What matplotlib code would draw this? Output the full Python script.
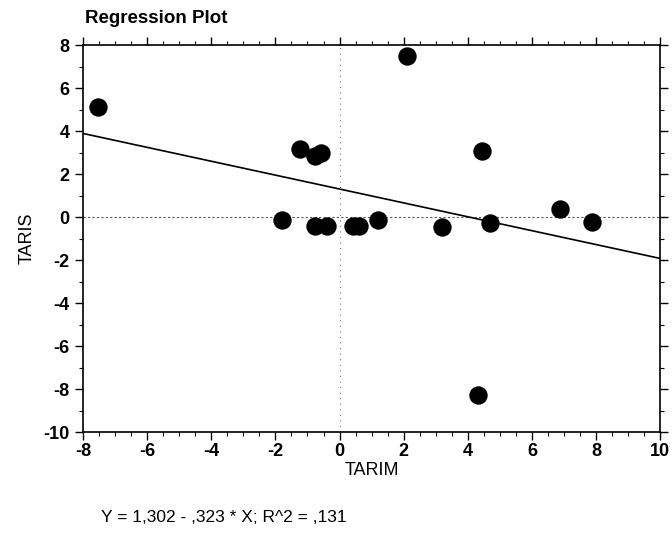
import matplotlib
matplotlib.use("Agg")
import matplotlib.pyplot as plt
import numpy as np
from matplotlib.ticker import MultipleLocator

plt.rcParams['font.family'] = ['Liberation Sans', 'DejaVu Sans']
plt.rcParams['axes.unicode_minus'] = False

tarim = [-7.53, -1.23, -0.78, -0.58, -1.78, -0.78, -0.38, 0.42, 0.61, 1.20,
         2.11, 3.18, 4.45, 4.69, 6.87, 7.86, 4.33]
taris = [5.11, 3.16, 2.84, 2.97, -0.12, -0.43, -0.40, -0.43, -0.43, -0.15,
         7.50, -0.45, 3.08, -0.27, 0.35, -0.24, -8.28]
intercept = 1.302
slope = -0.323
x_ticks = [-8, -6, -4, -2, 0, 2, 4, 6, 8, 10]
y_ticks = [8, 6, 4, 2, 0, -2, -4, -6, -8, -10]

fig = plt.figure(figsize=(6.72, 5.39), dpi=100)
ax = fig.add_axes([0.1235, 0.1985, 0.859, 0.718])

ax.axhline(0, color='#555555', lw=0.8, ls=(0, (2, 2)), zorder=1)
ax.axvline(0, color='#777777', lw=0.8, ls=(0, (1, 4)), zorder=1)

xl = np.array([-8, 10])
ax.plot(xl, intercept + slope * xl, color='black', lw=1.2, zorder=2)
ax.scatter(tarim, taris, s=175, color='black', zorder=3, linewidths=0)

ax.set_xlim(-8, 10)
ax.set_ylim(-10, 8)
ax.set_xticks(x_ticks)
ax.set_yticks(y_ticks)
ax.xaxis.set_minor_locator(MultipleLocator(0.5))
ax.yaxis.set_minor_locator(MultipleLocator(1))
ax.tick_params(axis='both', which='major', labelsize=13, length=6, width=1,
               direction='out', top=True, right=True)
ax.tick_params(axis='x', which='major', pad=2)
ax.tick_params(axis='both', which='minor', length=3, width=0.8,
               direction='out', top=True, right=True)
for lab in ax.get_xticklabels() + ax.get_yticklabels():
    lab.set_fontweight('bold')
for s in ax.spines.values():
    s.set_linewidth(1.2)

ax.set_xlabel('TARIM', fontsize=13, labelpad=1)
ax.set_ylabel('TARIS', fontsize=13, labelpad=6)
fig.text(0.127, 0.95, 'Regression Plot', fontsize=13.5, fontweight='bold',
         ha='left', va='bottom')
fig.text(0.15, 0.04, 'Y = 1,302 - ,323 * X; R^2 = ,131', fontsize=12.5,
         ha='left', va='center')

fig.savefig('out.png', dpi=100)
